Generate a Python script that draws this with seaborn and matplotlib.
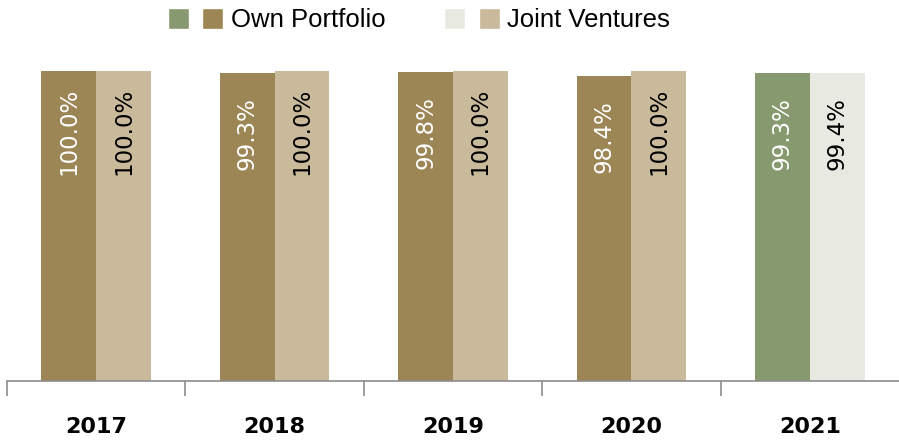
import matplotlib
matplotlib.use("Agg")
import matplotlib.pyplot as plt
import seaborn as sns
import pandas as pd
from matplotlib.patches import Patch
from matplotlib.legend_handler import HandlerTuple

years = ["2017", "2018", "2019", "2020", "2021"]
own_portfolio = [100.0, 99.3, 99.8, 98.4, 99.3]
joint_ventures = [100.0, 100.0, 100.0, 100.0, 99.4]
series = ["Own Portfolio", "Joint Ventures"]

OWN = "#9C8655"
JV = "#C8BA9A"
OWN21 = "#87996E"
JV21 = "#E8EAE2"

df = pd.DataFrame({
    "year": years * 2,
    "value": own_portfolio + joint_ventures,
    "series": [series[0]] * len(years) + [series[1]] * len(years),
})

sns.set_theme(style="white")
plt.rcParams['font.family'] = ['Liberation Sans', 'DejaVu Sans']
plt.rcParams['text.color'] = 'black'
plt.rcParams['xtick.color'] = 'black'

fig = plt.figure(figsize=(8.99, 4.43), dpi=100)
ax = fig.add_axes([7 / 899, 62 / 443, 1 - 7 / 899, (381 - 71) / 443])

sns.barplot(data=df, x="year", y="value", hue="series", order=years,
            hue_order=series, palette=[OWN, JV], width=0.615, gap=0,
            saturation=1, ax=ax, legend=False)

own_bars = ax.containers[0]
jv_bars = ax.containers[1]
own_bars[-1].set_facecolor(OWN21)
jv_bars[-1].set_facecolor(JV21)
for b in list(own_bars) + list(jv_bars):
    b.set_edgecolor("none")

for bars, vals, col in [(own_bars, own_portfolio, "white"), (jv_bars, joint_ventures, "black")]:
    for b, v in zip(bars, vals):
        ax.text(b.get_x() + b.get_width() / 2, v - 19.5, f"{v:.1f}%",
                rotation=90, ha="center", va="center", color=col,
                fontsize=16.5, family="DejaVu Sans")

ax.set_xlim(-0.5, 4.5)
ax.set_ylim(0, 100)
ax.set_yticks([])
ax.set_xlabel("")
ax.set_ylabel("")
for s in ["top", "right", "left"]:
    ax.spines[s].set_visible(False)
ax.spines["bottom"].set_color("#8C8C8C")
ax.spines["bottom"].set_linewidth(1.2)

ax.set_xticks(range(len(years)))
ax.set_xticklabels(years, fontsize=16, fontweight="bold", family="DejaVu Sans", color="black")
ax.tick_params(axis="x", which="major", length=0, pad=26)
ax.set_xticks([i - 0.5 for i in range(len(years))], minor=True)
ax.tick_params(axis="x", which="minor", length=11, width=1.2, color="#8C8C8C", bottom=True)

handles = [
    (Patch(facecolor=OWN21), Patch(facecolor=OWN)),
    (Patch(facecolor=JV21), Patch(facecolor=JV)),
]
leg = fig.legend(handles, series, handler_map={tuple: HandlerTuple(ndivide=None, pad=0.52)},
                 loc="center", bbox_to_anchor=(0.466, 0.955), ncol=2, frameon=False,
                 fontsize=18.5, handlelength=2.15, handleheight=0.9, handletextpad=0.28,
                 columnspacing=2.3)
for t in leg.get_texts():
    t.set_color("black")

fig.savefig("out.png", dpi=100)
